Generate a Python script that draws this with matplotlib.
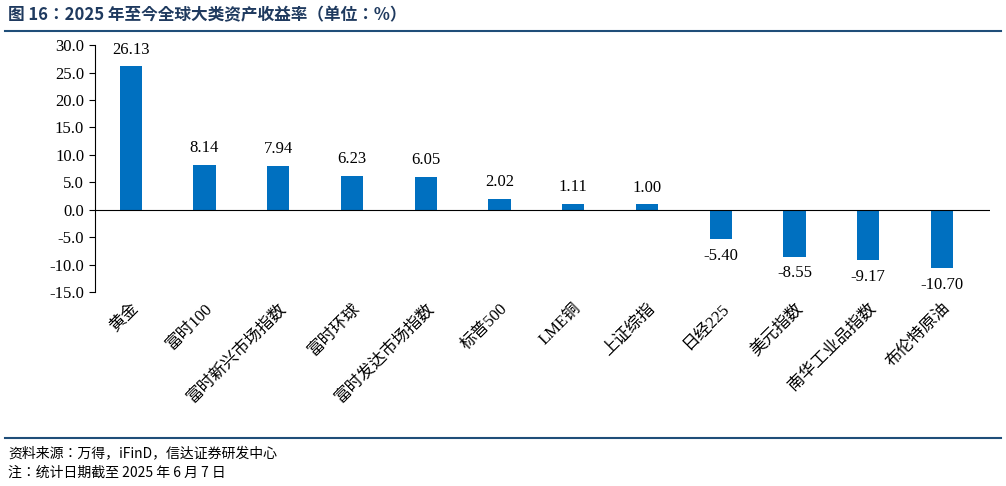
import matplotlib.pyplot as plt
from matplotlib import font_manager
from matplotlib.lines import Line2D

cjk = [f for f in font_manager.findSystemFonts() if 'CJK' in f or 'cjk' in f.lower()]
cjk_sc = [f for f in cjk if 'SC' in f] or cjk
if cjk_sc:
    font_manager.fontManager.addfont(cjk_sc[0])
    cjk_name = font_manager.FontProperties(fname=cjk_sc[0]).get_name()
else:
    cjk_name = 'Noto Sans CJK SC'
plt.rcParams['font.family'] = ['Liberation Serif', cjk_name]

categories = ['黄金', '富时100', '富时新兴市场指数', '富时环球', '富时发达市场指数', '标普500',
              'LME铜', '上证综指', '日经225', '美元指数', '南华工业品指数', '布伦特原油']
returns = [26.13, 8.14, 7.94, 6.23, 6.05, 2.02, 1.11, 1.00, -5.40, -8.55, -9.17, -10.70]
yticks = [30, 25, 20, 15, 10, 5, 0, -5, -10, -15]

fig = plt.figure(figsize=(10.06, 4.86), dpi=100)
ax = fig.add_axes([0.094, 0.399, 0.89, 0.508])
x = range(len(categories))
ax.bar(x, returns, width=0.3, color='#0070C0')
for i, v in zip(x, returns):
    off = 1.6 if v >= 0 else -1.6
    ax.text(i, v + off, f'{v:.2f}', ha='center', va='bottom' if v >= 0 else 'top', fontsize=12)

ax.set_ylim(-15, 30)
ax.set_xlim(-0.49, len(categories) - 0.35)
ax.set_yticks(yticks)
ax.set_yticklabels([f'{t:.1f}' for t in yticks], fontsize=12)
ax.set_xticks(list(x))
ax.set_xticklabels(categories, rotation=45, ha='right', rotation_mode='anchor', fontsize=12)
ax.tick_params(axis='x', length=0, pad=6)
ax.tick_params(axis='y', direction='out', length=4)
for s in ['top', 'right', 'bottom']:
    ax.spines[s].set_visible(False)
ax.axhline(0, color='black', lw=0.8)

fig.text(0.008, 0.968, '图 16：2025 年至今全球大类资产收益率（单位：%）', fontsize=12, fontweight='bold',
         color='#1F3A5F', va='center', family=[cjk_name])
fig.add_artist(Line2D([0.005, 0.995], [0.937, 0.937], color='#1F4E79', lw=1.5))
fig.add_artist(Line2D([0.005, 0.995], [0.098, 0.098], color='#1F4E79', lw=1.5))
fig.text(0.008, 0.068, '资料来源：万得，iFinD，信达证券研发中心', fontsize=10, style='italic', va='center',
         family=[cjk_name])
fig.text(0.008, 0.028, '注：统计日期截至 2025 年 6 月 7 日', fontsize=10, style='italic', va='center',
         family=[cjk_name])
fig.savefig('out.png', dpi=100)
